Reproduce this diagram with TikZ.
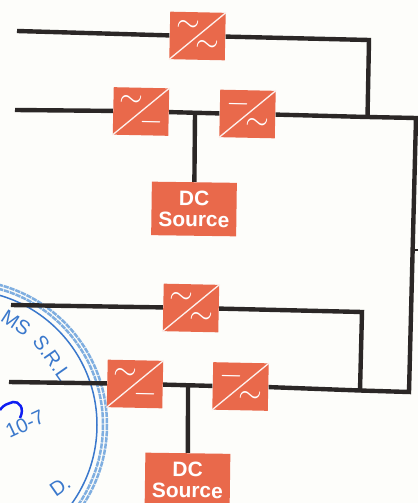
\documentclass[tikz,border=0pt]{standalone}
\usepackage{fontspec}
\setmainfont{Liberation Sans}
\usetikzlibrary{calc}
\definecolor{bgc}{HTML}{FDFDFA}
\definecolor{boxc}{HTML}{E9694B}
\definecolor{linec}{HTML}{2B2726}
\definecolor{stampc}{HTML}{7FAEE0}
\definecolor{stampd}{HTML}{3A78CC}
\tikzset{
  conv/.style={fill=boxc,minimum width=1.11cm,minimum height=0.95cm,inner sep=0pt,rotate=-1.2},
  dcbox/.style={fill=boxc,minimum width=1.7cm,minimum height=1.07cm,inner sep=0pt,rotate=-0.8,align=center,text=white,font=\bfseries\fontsize{11.9}{12}\selectfont},
  wire/.style={draw=linec,line width=0.088cm,line cap=butt,line join=miter},
  diag/.style={draw=white!90!boxc,line width=0.75pt},
  sym/.style={text=white,font=\fontsize{16}{16}\selectfont,inner sep=0pt},
  stampa/.style={draw=stampc,line width=0.05cm,dash pattern=on 3pt off 0.5pt},
  stampb/.style={draw=stampd,line width=0.03cm},
  stampt/.style={text=stampd,font=\fontsize{11.4}{12}\selectfont,inner sep=0pt}
}
\newcommand{\convsym}[3]{%
  \draw[diag] (#1.south west) -- (#1.north east);
  \node[sym,rotate=-1.2] at ($(#1.center)+(-9.5,-10)$) {$#2$};
  \node[sym,rotate=-1.2] at ($(#1.center)+(10,10.5)$) {$#3$};
}
\begin{document}
\begin{tikzpicture}[x=0.02cm,y=-0.02cm]
\useasboundingbox (0,0) rectangle (418,503);
\fill[bgc] (0,0) rectangle (418,503);
% stamp
\begin{scope}
\clip (0,0) rectangle (418,503);
\draw[stampa] (-38,425) circle [radius=145];
\draw[stampa] (-38,425) circle [radius=141];
\draw[stampb] (-38,425) circle [radius=135];
\end{scope}
\node[stampt,rotate=-33] at (16,323) {MS};
\node[stampt,rotate=-55] at (52,358) {S.R.L};
\node[stampt,rotate=25] at (25,424) {10-7};
\node[stampt,rotate=35] at (60,486) {D.};
\draw[blue!75!stampd,line width=0.05cm] (0,410) .. controls (4,404) and (8,404) .. (13,402) .. controls (19,401) and (25,408) .. (20,418);
% nodes
\coordinate (inA) at (17,31);
\coordinate (inB) at (15,110);
\coordinate (inC) at (11,305);
\coordinate (inD) at (9,382);
\node[conv] (c1) at (197.5,36) {};
\node[conv] (c2) at (141,111.5) {};
\node[conv] (c3) at (247.5,114) {};
\node[conv] (c4) at (191,308) {};
\node[conv] (c5) at (135,384) {};
\node[conv] (c6) at (240.5,386.5) {};
\node[dcbox] (d1) at (194,209) {DC\\Source};
\node[dcbox] (d2) at (187.5,480) {DC\\Source};
\coordinate (k1) at (369,40);
\coordinate (j1) at (367.5,117);
\coordinate (k2) at (416,118);
\coordinate (k3) at (409,392);
\coordinate (k4) at (362,312);
\coordinate (j2) at (360,390.5);
\coordinate (t1) at (195,114);
\coordinate (t2) at (188,386);
\coordinate (s1) at (413,250);
\coordinate (s2) at (418,250);
% connectors
\draw[wire] (inA) -- (c1.west);
\draw[wire] (c1.east) -- (k1) -- (j1);
\draw[wire] (inB) -- (c2.west);
\draw[wire] (c2.east) -- (c3.west);
\draw[wire] (c3.east) -- (j1) -- (k2) -- (k3) -- (j2) -- (c6.east);
\draw[wire] (t1) -- (d1.north);
\draw[wire] (inC) -- (c4.west);
\draw[wire] (c4.east) -- (k4) -- (j2);
\draw[wire] (inD) -- (c5.west);
\draw[wire] (c5.east) -- (c6.west);
\draw[wire] (t2) -- (d2.north);
\draw[draw=linec,line width=0.04cm] (s1) -- (s2);
\convsym{c1}{\sim}{\sim}
\convsym{c2}{\sim}{-}
\convsym{c3}{-}{\sim}
\convsym{c4}{\sim}{\sim}
\convsym{c5}{\sim}{-}
\convsym{c6}{-}{\sim}
\end{tikzpicture}
\end{document}
